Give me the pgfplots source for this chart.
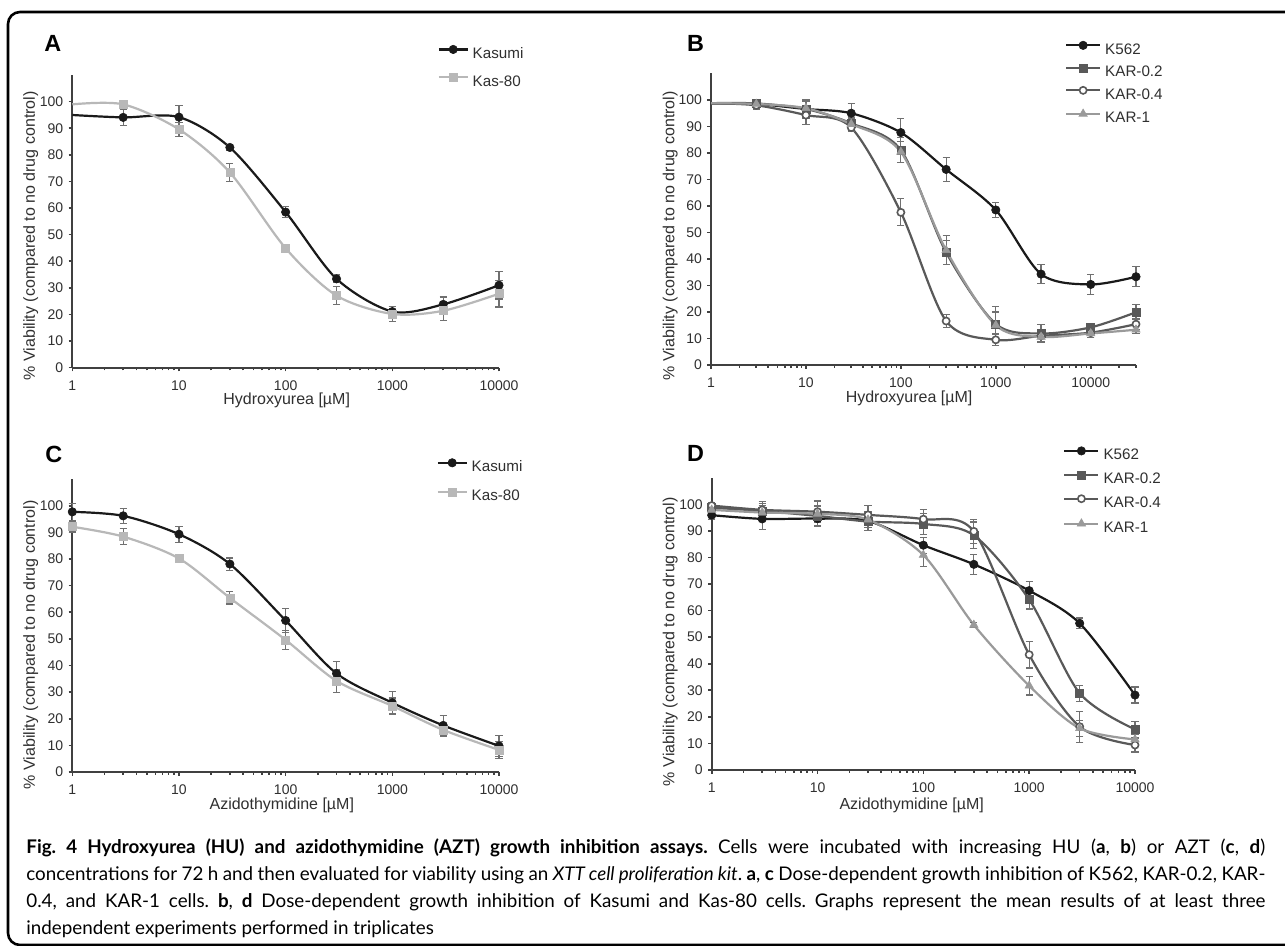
\documentclass[border=0pt]{standalone}
\usepackage{fontspec}
\setmainfont{Liberation Sans}
\newfontfamily\capfont{Lato}
\usepackage{pgfplots}
\usepackage{pgfplotstable}
\pgfplotsset{compat=1.18}

\definecolor{cblack}{HTML}{1A1A1A}
\definecolor{cdark}{HTML}{595959}
\definecolor{clight}{HTML}{9A9A9A}
\definecolor{clighter}{HTML}{B8B8B8}
\definecolor{ebar}{HTML}{707070}
\definecolor{axgray}{HTML}{404040}
\definecolor{labgray}{HTML}{303030}

% panel A: hydroxyurea, Kasumi / Kas-80 (first row = line only)
\pgfplotstableread{
x y e
1 95.0 0
3 94.1 3.0
10 94.2 4.5
30 82.8 1.0
100 58.5 2.0
300 33.4 1.5
1000 21.1 2.0
3000 23.8 2.8
10000 31.0 5.2
}\AKasumi
\pgfplotstableread{
x y e
1 99.0 0
3 99.0 1.5
10 89.6 2.7
30 73.4 3.3
100 44.9 1.0
300 27.1 3.3
1000 20.2 2.8
3000 21.4 3.6
10000 27.8 5.0
}\AKasEighty

% panel B: hydroxyurea, K562 and KAR lines
\pgfplotstableread{
x y e
1 98.7 0
3 98.5 1.5
10 96.6 3.4
30 95.0 3.8
100 87.7 5.3
300 73.8 4.5
1000 58.5 2.8
3000 34.3 3.5
10000 30.4 3.8
30000 33.3 3.8
}\BKfive
\pgfplotstableread{
x y e
1 98.8 0
3 98.7 1.5
10 96.6 3.0
30 91.2 2.0
100 81.1 4.8
300 42.5 4.5
1000 15.5 6.5
3000 11.9 3.4
10000 14.2 1.5
30000 19.9 2.8
}\BKarA
\pgfplotstableread{
x y e
1 98.8 0
3 98.0 1.5
10 94.3 3.4
30 89.6 1.5
100 57.6 5.1
300 16.6 2.6
1000 9.5 2.2
3000 11.0 2.0
10000 12.2 1.8
30000 15.4 2.0
}\BKarB
\pgfplotstableread{
x y e
1 98.8 0
3 98.5 1.5
10 96.9 2.5
30 90.9 1.5
100 80.4 4.0
300 43.3 5.5
1000 15.0 5.0
3000 10.6 2.0
10000 11.9 1.5
30000 13.3 1.5
}\BKarC

% panel C: azidothymidine, Kasumi / Kas-80
\pgfplotstableread{
x y e
1 97.7 3.2
3 96.2 2.8
10 89.3 3.0
30 78.1 2.3
100 56.9 4.5
300 37.0 4.6
1000 26.0 4.1
3000 17.5 3.6
10000 9.8 4.0
}\CKasumi
\pgfplotstableread{
x y e
1 92.1 2.0
3 88.4 3.0
10 80.2 1.0
30 65.4 2.3
100 49.6 3.5
300 34.2 4.2
1000 24.8 3.0
3000 15.8 2.5
10000 8.3 3.2
}\CKasEighty

% panel D: azidothymidine, K562 and KAR lines
\pgfplotstableread{
x y e
1 95.9 1.5
3 94.5 4.0
10 94.6 3.0
30 93.7 3.5
100 84.6 3.0
300 77.4 3.8
1000 67.5 3.5
3000 55.2 2.0
10000 28.2 3.0
}\DKfive
\pgfplotstableread{
x y e
1 98.7 1.5
3 97.5 3.5
10 95.6 3.5
30 93.5 3.5
100 92.6 4.0
300 88.3 5.0
1000 64.1 3.5
3000 28.9 3.0
10000 15.3 3.0
}\DKarA
\pgfplotstableread{
x y e
1 99.5 1.0
3 97.9 2.5
10 97.2 4.0
30 96.0 3.5
100 94.4 3.5
300 89.8 4.5
1000 43.4 5.0
3000 16.3 5.8
10000 9.4 2.6
}\DKarB
\pgfplotstableread{
x y e
1 97.9 1.5
3 96.9 2.5
10 96.4 3.0
30 94.2 3.0
100 80.9 4.3
300 54.6 1.0
1000 31.7 3.5
3000 15.7 3.0
10000 11.5 2.0
}\DKarC

\pgfplotsset{
  every axis/.append style={
    scale only axis, clip=false, anchor=south west,
    axis x line*=bottom, axis y line*=left,
    axis line style={axgray, line width=0.9pt},
    ymin=0, ymax=110, ytick={0,10,...,100},
    xmin=1,
    xtick={1,10,100,1000,10000}, xticklabels={1,10,100,1000,10000},
    tick align=outside,
    major tick length=1.8pt, minor tick length=1.3pt,
    every tick/.append style={axgray, line width=0.8pt},
    every tick label/.append style={font=\fontsize{7}{8}\selectfont, text=labgray},
    every x tick label/.append style={yshift=-1.2pt},
    every y tick label/.append style={xshift=0.8pt},
    every axis label/.append style={font=\fontsize{8}{9.6}\selectfont, text=labgray},
    legend cell align=left,
  },
  every axis legend/.append style={draw=none, fill=none, inner sep=0pt, outer sep=0pt,
      anchor=north west, font=\fontsize{7.6}{9}\selectfont, text=labgray,
      nodes={inner sep=0pt, text height=5.5pt, text depth=1.6pt},
      /tikz/every odd column/.append style={column sep=2pt}},
}

\begin{document}
\frenchspacing
\begin{tikzpicture}
\begin{scope}[x=0.5pt,y=-0.5pt]
\useasboundingbox (0,0) rectangle (1285,946);
\fill[white] (0,0) rectangle (1285,946);
\draw[line width=1.3pt, rounded corners=6pt] (1300,12) -- (8,12) -- (8,945) -- (1300,945);
\node[anchor=west, inner sep=0pt, font=\bfseries\fontsize{11.7}{12}\selectfont] at (44,43.3) {A};
\node[anchor=west, inner sep=0pt, font=\bfseries\fontsize{11.7}{12}\selectfont] at (686.7,43.3) {B};
\node[anchor=west, inner sep=0pt, font=\bfseries\fontsize{11.7}{12}\selectfont] at (45,454) {C};
\node[anchor=west, inner sep=0pt, font=\bfseries\fontsize{11.7}{12}\selectfont] at (686.7,453.3) {D};
\node[anchor=base west, inner sep=0pt, font=\capfont\fontsize{9.4}{12}\selectfont] at (26,853) {\makebox[619.5pt][s]{\textbf{Fig. 4 Hydroxyurea (HU) and azidothymidine (AZT) growth inhibition assays.} Cells were incubated with increasing HU (\textbf{a}, \textbf{b}) or AZT (\textbf{c}, \textbf{d})}};
\node[anchor=base west, inner sep=0pt, font=\capfont\fontsize{9.4}{12}\selectfont] at (26,880) {\makebox[619.5pt][s]{concentrations for 72 h and then evaluated for viability using an \textit{XTT cell proliferation kit}. \textbf{a}, \textbf{c} Dose-dependent growth inhibition of K562, KAR-0.2, KAR-}};
\node[anchor=base west, inner sep=0pt, font=\capfont\fontsize{9.4}{12}\selectfont] at (26,907) {\makebox[619.5pt][s]{0.4, and KAR-1 cells. \textbf{b}, \textbf{d} Dose-dependent growth inhibition of Kasumi and Kas-80 cells. Graphs represent the mean results of at least three}};
\node[anchor=base west, inner sep=0pt, font=\capfont\fontsize{9.4}{12}\selectfont] at (26,934.5) {independent experiments performed in triplicates};
\end{scope}

% A
\begin{axis}[xmode=log, at={(36.15pt,-183.85pt)}, width=213.35pt, height=146.3pt,
  xmax=10000,
  minor xtick={2,3,4,5,6,7,8,9,20,30,40,50,60,70,80,90,200,300,400,500,600,700,800,900,2000,3000,4000,5000,6000,7000,8000,9000},
  /pgf/number format/assume math mode=true,
  xlabel={Hydroxyurea [µM]},
  ylabel={\% Viability (compared to no drug control)},
  xlabel style={at={(axis description cs:0.5025,-0.110)}, anchor=center},
  ylabel style={at={(axis description cs:-0.0975,0.451)}, anchor=center},
  legend style={at={(0.8564,1.102)}, row sep=5.9pt},
  legend image code/.code={\draw[mark repeat=2,mark phase=2,#1] plot coordinates {(0pt,2.5pt) (7.2pt,2.5pt) (14.4pt,2.5pt)};}]
\addplot[color=cblack, line width=1.1pt, smooth, no markers, forget plot] table[x=x,y=y] {\AKasumi};
\addplot[only marks, forget plot, mark=*, mark size=2.1pt, mark options={draw=cblack, fill=cblack, line width=0.3pt},
  skip coords between index={0}{1},
  error bars/y dir=both, error bars/y explicit,
  error bars/error bar style={ebar, line width=0.6pt},
  error bars/error mark options={ebar, rotate=90, mark size=1.8pt, line width=0.6pt}]
  table[x=x,y=y,y error=e] {\AKasumi};
\addplot[color=clighter, line width=1.1pt, smooth, no markers, forget plot] table[x=x,y=y] {\AKasEighty};
\addplot[only marks, forget plot, mark=square*, mark size=2pt, mark options={draw=clighter, fill=clighter, line width=0.3pt},
  skip coords between index={0}{1},
  error bars/y dir=both, error bars/y explicit,
  error bars/error bar style={ebar, line width=0.6pt},
  error bars/error mark options={ebar, rotate=90, mark size=1.8pt, line width=0.6pt}]
  table[x=x,y=y,y error=e] {\AKasEighty};
\addlegendimage{cblack, line width=1.1pt, mark=*, mark size=2.1pt, mark options={line width=0.3pt, fill=cblack}}
\addlegendentry{Kasumi}
\addlegendimage{clighter, line width=1.1pt, mark=square*, mark size=2pt, mark options={line width=0.3pt, fill=clighter}}
\addlegendentry{Kas-80}
\end{axis}

% B
\begin{axis}[xmode=log, at={(355.5pt,-182.5pt)}, width=212.5pt, height=145.75pt,
  xmax=30000,
  minor xtick={2,3,4,5,6,7,8,9,20,30,40,50,60,70,80,90,200,300,400,500,600,700,800,900,2000,3000,4000,5000,6000,7000,8000,9000,20000,30000},
  /pgf/number format/assume math mode=true,
  xlabel={Hydroxyurea [µM]},
  ylabel={\% Viability (compared to no drug control)},
  xlabel style={at={(axis description cs:0.466,-0.114)}, anchor=center},
  ylabel style={at={(axis description cs:-0.096,0.4436)}, anchor=center},
  legend style={at={(0.833,1.111)}, row sep=3.3pt},
  legend image code/.code={\draw[mark repeat=2,mark phase=2,#1] plot coordinates {(0pt,2.5pt) (8.5pt,2.5pt) (17pt,2.5pt)};}]
\addplot[color=cblack, line width=1.1pt, smooth, no markers, forget plot] table[x=x,y=y] {\BKfive};
\addplot[only marks, forget plot, mark=*, mark size=2.1pt, mark options={draw=cblack, fill=cblack, line width=0.3pt},
  skip coords between index={0}{1},
  error bars/y dir=both, error bars/y explicit,
  error bars/error bar style={ebar, line width=0.6pt},
  error bars/error mark options={ebar, rotate=90, mark size=1.8pt, line width=0.6pt}]
  table[x=x,y=y,y error=e] {\BKfive};
\addplot[color=cdark, line width=1.1pt, smooth, no markers, forget plot] table[x=x,y=y] {\BKarA};
\addplot[only marks, forget plot, mark=square*, mark size=2pt, mark options={draw=cdark, fill=cdark, line width=0.3pt},
  skip coords between index={0}{1},
  error bars/y dir=both, error bars/y explicit,
  error bars/error bar style={ebar, line width=0.6pt},
  error bars/error mark options={ebar, rotate=90, mark size=1.8pt, line width=0.6pt}]
  table[x=x,y=y,y error=e] {\BKarA};
\addplot[color=cdark, line width=1.1pt, smooth, no markers, forget plot] table[x=x,y=y] {\BKarB};
\addplot[only marks, forget plot, mark=*, mark size=1.8pt, mark options={draw=cdark, fill=white, line width=0.8pt},
  skip coords between index={0}{1},
  error bars/y dir=both, error bars/y explicit,
  error bars/error bar style={ebar, line width=0.6pt},
  error bars/error mark options={ebar, rotate=90, mark size=1.8pt, line width=0.6pt}]
  table[x=x,y=y,y error=e] {\BKarB};
\addplot[color=clight, line width=1.1pt, smooth, no markers, forget plot] table[x=x,y=y] {\BKarC};
\addplot[only marks, forget plot, mark=triangle*, mark size=2.4pt, mark options={draw=clight, fill=clight, line width=0.3pt},
  skip coords between index={0}{1},
  error bars/y dir=both, error bars/y explicit,
  error bars/error bar style={ebar, line width=0.6pt},
  error bars/error mark options={ebar, rotate=90, mark size=1.8pt, line width=0.6pt}]
  table[x=x,y=y,y error=e] {\BKarC};
\addlegendimage{cblack, line width=1.1pt, mark=*, mark size=2.1pt, mark options={line width=0.3pt, fill=cblack}}
\addlegendentry{K562}
\addlegendimage{cdark, line width=1.1pt, mark=square*, mark size=2pt, mark options={line width=0.3pt, fill=cdark}}
\addlegendentry{KAR-0.2}
\addlegendimage{cdark, line width=1.1pt, mark=*, mark size=1.8pt, mark options={line width=0.8pt, fill=white}}
\addlegendentry{KAR-0.4}
\addlegendimage{clight, line width=1.1pt, mark=triangle*, mark size=2.4pt, mark options={line width=0.3pt, fill=clight}}
\addlegendentry{KAR-1}
\end{axis}

% C
\begin{axis}[xmode=log, at={(36.15pt,-386pt)}, width=213.35pt, height=146.45pt,
  xmax=10000,
  minor xtick={2,3,4,5,6,7,8,9,20,30,40,50,60,70,80,90,200,300,400,500,600,700,800,900,2000,3000,4000,5000,6000,7000,8000,9000},
  /pgf/number format/assume math mode=true,
  xlabel={Azidothymidine [µM]},
  ylabel={\% Viability (compared to no drug control)},
  xlabel style={at={(axis description cs:0.491,-0.1127)}, anchor=center},
  ylabel style={at={(axis description cs:-0.0975,0.434)}, anchor=center},
  legend style={at={(0.854,1.070)}, row sep=6.6pt},
  legend image code/.code={\draw[mark repeat=2,mark phase=2,#1] plot coordinates {(0pt,2.5pt) (7.2pt,2.5pt) (14.4pt,2.5pt)};}]
\addplot[color=cblack, line width=1.1pt, smooth, no markers, forget plot] table[x=x,y=y] {\CKasumi};
\addplot[only marks, forget plot, mark=*, mark size=2.1pt, mark options={draw=cblack, fill=cblack, line width=0.3pt},
  error bars/y dir=both, error bars/y explicit,
  error bars/error bar style={ebar, line width=0.6pt},
  error bars/error mark options={ebar, rotate=90, mark size=1.8pt, line width=0.6pt}]
  table[x=x,y=y,y error=e] {\CKasumi};
\addplot[color=clighter, line width=1.1pt, smooth, no markers, forget plot] table[x=x,y=y] {\CKasEighty};
\addplot[only marks, forget plot, mark=square*, mark size=2pt, mark options={draw=clighter, fill=clighter, line width=0.3pt},
  error bars/y dir=both, error bars/y explicit,
  error bars/error bar style={ebar, line width=0.6pt},
  error bars/error mark options={ebar, rotate=90, mark size=1.8pt, line width=0.6pt}]
  table[x=x,y=y,y error=e] {\CKasEighty};
\addlegendimage{cblack, line width=1.1pt, mark=*, mark size=2.1pt, mark options={line width=0.3pt, fill=cblack}}
\addlegendentry{Kasumi}
\addlegendimage{clighter, line width=1.1pt, mark=square*, mark size=2pt, mark options={line width=0.3pt, fill=clighter}}
\addlegendentry{Kas-80}
\end{axis}

% D
\begin{axis}[xmode=log, at={(355.85pt,-385pt)}, width=211.65pt, height=146.15pt,
  xmax=10000,
  minor xtick={2,3,4,5,6,7,8,9,20,30,40,50,60,70,80,90,200,300,400,500,600,700,800,900,2000,3000,4000,5000,6000,7000,8000,9000},
  /pgf/number format/assume math mode=true,
  xlabel={Azidothymidine [µM]},
  ylabel={\% Viability (compared to no drug control)},
  xlabel style={at={(axis description cs:0.4725,-0.1197)}, anchor=center},
  ylabel style={at={(axis description cs:-0.098,0.439)}, anchor=center},
  legend style={at={(0.8306,1.106)}, row sep=4.0pt},
  legend image code/.code={\draw[mark repeat=2,mark phase=2,#1] plot coordinates {(0pt,2.5pt) (8.5pt,2.5pt) (17pt,2.5pt)};}]
\addplot[color=cblack, line width=1.1pt, smooth, no markers, forget plot] table[x=x,y=y] {\DKfive};
\addplot[only marks, forget plot, mark=*, mark size=2.1pt, mark options={draw=cblack, fill=cblack, line width=0.3pt},
  error bars/y dir=both, error bars/y explicit,
  error bars/error bar style={ebar, line width=0.6pt},
  error bars/error mark options={ebar, rotate=90, mark size=1.8pt, line width=0.6pt}]
  table[x=x,y=y,y error=e] {\DKfive};
\addplot[color=cdark, line width=1.1pt, smooth, no markers, forget plot] table[x=x,y=y] {\DKarA};
\addplot[only marks, forget plot, mark=square*, mark size=2pt, mark options={draw=cdark, fill=cdark, line width=0.3pt},
  error bars/y dir=both, error bars/y explicit,
  error bars/error bar style={ebar, line width=0.6pt},
  error bars/error mark options={ebar, rotate=90, mark size=1.8pt, line width=0.6pt}]
  table[x=x,y=y,y error=e] {\DKarA};
\addplot[color=cdark, line width=1.1pt, smooth, no markers, forget plot] table[x=x,y=y] {\DKarB};
\addplot[only marks, forget plot, mark=*, mark size=1.8pt, mark options={draw=cdark, fill=white, line width=0.8pt},
  error bars/y dir=both, error bars/y explicit,
  error bars/error bar style={ebar, line width=0.6pt},
  error bars/error mark options={ebar, rotate=90, mark size=1.8pt, line width=0.6pt}]
  table[x=x,y=y,y error=e] {\DKarB};
\addplot[color=clight, line width=1.1pt, smooth, no markers, forget plot] table[x=x,y=y] {\DKarC};
\addplot[only marks, forget plot, mark=triangle*, mark size=2.4pt, mark options={draw=clight, fill=clight, line width=0.3pt},
  error bars/y dir=both, error bars/y explicit,
  error bars/error bar style={ebar, line width=0.6pt},
  error bars/error mark options={ebar, rotate=90, mark size=1.8pt, line width=0.6pt}]
  table[x=x,y=y,y error=e] {\DKarC};
\addlegendimage{cblack, line width=1.1pt, mark=*, mark size=2.1pt, mark options={line width=0.3pt, fill=cblack}}
\addlegendentry{K562}
\addlegendimage{cdark, line width=1.1pt, mark=square*, mark size=2pt, mark options={line width=0.3pt, fill=cdark}}
\addlegendentry{KAR-0.2}
\addlegendimage{cdark, line width=1.1pt, mark=*, mark size=1.8pt, mark options={line width=0.8pt, fill=white}}
\addlegendentry{KAR-0.4}
\addlegendimage{clight, line width=1.1pt, mark=triangle*, mark size=2.4pt, mark options={line width=0.3pt, fill=clight}}
\addlegendentry{KAR-1}
\end{axis}
\end{tikzpicture}
\end{document}
